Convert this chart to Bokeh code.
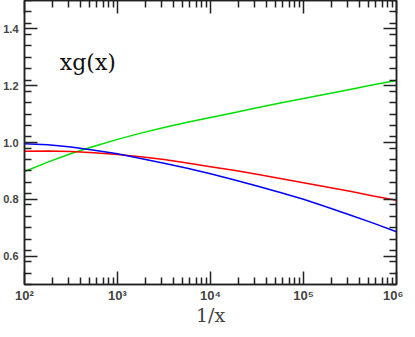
from bokeh.plotting import figure
from bokeh.models import FixedTicker, LinearAxis, LogAxis, Label, Range1d
from bokeh.embed import file_html
from bokeh.resources import INLINE

# 1/x values (log10 spaced quarter decades)
inv_x_exp = [2.0, 2.25, 2.5, 2.75, 3.0, 3.25, 3.5, 3.75, 4.0, 4.25, 4.5, 4.75, 5.0, 5.25, 5.5, 5.75, 6.0]
green_vals = [0.898, 0.931, 0.961, 0.987, 1.011, 1.033, 1.053, 1.071, 1.088, 1.105, 1.122, 1.139, 1.155, 1.171, 1.187, 1.203, 1.218]
red_vals = [0.969, 0.970, 0.968, 0.964, 0.958, 0.950, 0.940, 0.928, 0.915, 0.902, 0.888, 0.873, 0.858, 0.843, 0.828, 0.812, 0.797]
blue_vals = [0.996, 0.992, 0.984, 0.973, 0.960, 0.944, 0.927, 0.909, 0.890, 0.869, 0.847, 0.824, 0.800, 0.773, 0.745, 0.716, 0.686]

x_ticks = [100, 1000, 10000, 100000, 1000000]
x_tick_labels = ["10²", "10³", "10⁴", "10⁵", "10⁶"]
y_ticks = [0.6, 0.8, 1.0, 1.2, 1.4]
y_tick_labels = ["0.6", "0.8", "1.0", "1.2", "1.4"]
x_title = "1/x"
y_title = "xg(x)"

inv_x = [10 ** e for e in inv_x_exp]

x_minor = [m * 10 ** d for d in range(2, 6) for m in range(2, 10)]
y_minor = [round(0.5 + 0.04 * i, 2) for i in range(26) if round(0.5 + 0.04 * i, 2) not in y_ticks]

p = figure(frame_width=372, frame_height=284, x_axis_type="log",
           x_range=Range1d(100, 1e6), y_range=Range1d(0.5, 1.5),
           output_backend="svg", toolbar_location=None,
           min_border_left=20, min_border_right=7, min_border_top=0, min_border_bottom=0)

p.grid.visible = False
p.background_fill_color = "white"
p.border_fill_color = "white"
p.outline_line_color = "#222222"
p.outline_line_width = 1.5

p.line(inv_x, green_vals, line_color="#00e000", line_width=1.5)
p.line(inv_x, red_vals, line_color="#ff0000", line_width=1.5)
p.line(inv_x, blue_vals, line_color="#0000ff", line_width=1.5)

def style(ax):
    ax.axis_line_color = "#222222"
    ax.axis_line_width = 1.5
    ax.major_tick_in = 13
    ax.major_tick_out = 0
    ax.minor_tick_in = 7
    ax.minor_tick_out = 0
    ax.major_tick_line_color = "#222222"
    ax.minor_tick_line_color = "#222222"
    ax.major_tick_line_width = 1.5
    ax.minor_tick_line_width = 1.5

xa = p.xaxis[0]
xa.ticker = FixedTicker(ticks=x_ticks, minor_ticks=x_minor)
xa.major_label_overrides = {t: l for t, l in zip(x_ticks, x_tick_labels)}
xa.major_label_text_font = "Liberation Sans"
xa.major_label_text_font_style = "bold"
xa.major_label_text_font_size = "13px"
xa.major_label_text_line_height = 1.0
xa.major_label_standoff = 3
xa.axis_label = x_title
xa.axis_label_text_font = "DejaVu Serif"
xa.axis_label_text_font_style = "normal"
xa.axis_label_text_font_size = "19px"
xa.axis_label_text_line_height = 1.0
xa.axis_label_standoff = -2
style(xa)

ya = p.yaxis[0]
ya.ticker = FixedTicker(ticks=y_ticks, minor_ticks=y_minor)
ya.major_label_overrides = {t: l for t, l in zip(y_ticks, y_tick_labels)}
ya.major_label_text_font = "Liberation Sans"
ya.major_label_text_font_style = "bold"
ya.major_label_text_font_size = "11px"
ya.major_label_standoff = 6
style(ya)

top = LogAxis(ticker=FixedTicker(ticks=x_ticks, minor_ticks=x_minor))
top.major_label_text_font_size = "1px"
top.major_label_text_color = None
top.major_label_standoff = 0
style(top)
p.add_layout(top, "above")

right = LinearAxis(ticker=FixedTicker(ticks=y_ticks, minor_ticks=y_minor))
right.major_label_text_font_size = "1px"
right.major_label_text_color = None
right.major_label_standoff = 0
style(right)
p.add_layout(right, "right")

p.add_layout(Label(x=10 ** 2.38, y=1.28, text=y_title, text_font="DejaVu Serif",
                   text_font_size="22px", text_baseline="middle", text_color="#111111"))

open("out.html", "w").write(file_html(p, INLINE))
